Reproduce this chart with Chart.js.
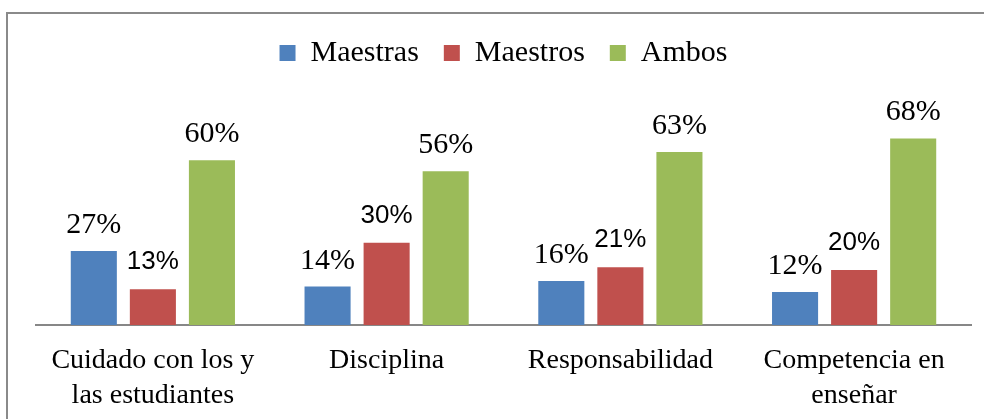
<!DOCTYPE html>
<html>
<head>
<meta charset="utf-8">
<script src="https://cdn.jsdelivr.net/npm/chart.js@4/dist/chart.umd.min.js"></script>
<style>
  html, body { margin: 0; padding: 0; background: #fff; width: 984px; height: 419px; overflow: hidden; }
  #frame { position: absolute; left: 6px; top: 12px; width: 1100px; height: 600px;
           border-top: 2px solid #8a8a8a; border-left: 2px solid #8a8a8a; }
  #c { position: absolute; left: 0; top: 0; }
</style>
</head>
<body>
<div id="frame"></div>
<canvas id="c" width="984" height="419"></canvas>
<script>
const categories = [
  ['Cuidado con los y', 'las estudiantes'],
  'Disciplina',
  'Responsabilidad',
  ['Competencia en', 'enseñar']
];
const seriesNames = ['Maestras', 'Maestros', 'Ambos'];
const maestras = [27, 14, 16, 12];
const maestros = [13, 30, 21, 20];
const ambos = [60, 56, 63, 68];

const colors = ['#4F81BD', '#C0504D', '#9BBB59'];
const labelFonts = [
  { font: '30px "Liberation Serif", "Times New Roman", serif', gap: 18 },
  { font: '26px "Liberation Sans", Arial, sans-serif', gap: 20 },
  { font: '30px "Liberation Serif", "Times New Roman", serif', gap: 18 }
];

const valueLabels = {
  id: 'valueLabels',
  afterDatasetsDraw(chart) {
    const ctx = chart.ctx;
    ctx.save();
    ctx.fillStyle = '#000';
    ctx.textAlign = 'center';
    ctx.textBaseline = 'alphabetic';
    chart.data.datasets.forEach((ds, i) => {
      const meta = chart.getDatasetMeta(i);
      ctx.font = labelFonts[i].font;
      meta.data.forEach((el, j) => {
        ctx.fillText(ds.data[j] + '%', el.x, el.y - labelFonts[i].gap);
      });
    });
    ctx.restore();
  }
};

new Chart(document.getElementById('c'), {
  type: 'bar',
  data: {
    labels: categories,
    datasets: [
      { label: seriesNames[0], data: maestras, backgroundColor: colors[0] },
      { label: seriesNames[1], data: maestros, backgroundColor: colors[1] },
      { label: seriesNames[2], data: ambos, backgroundColor: colors[2] }
    ]
  },
  options: {
    responsive: false,
    animation: false,
    events: [],
    layout: { padding: { top: 13, left: 36, right: 13, bottom: 0 } },
    datasets: { bar: { categoryPercentage: 0.758, barPercentage: 0.78 } },
    plugins: {
      legend: {
        position: 'top',
        labels: {
          boxWidth: 16,
          boxHeight: 16,
          padding: 25,
          color: '#000',
          font: { family: '"Liberation Serif", "Times New Roman", serif', size: 30 }
        }
      },
      tooltip: { enabled: false }
    },
    scales: {
      x: {
        grid: { display: false, drawTicks: false },
        border: { display: true, color: '#878787', width: 2 },
        ticks: {
          color: '#000',
          padding: 19,
          autoSkip: false,
          maxRotation: 0,
          minRotation: 0,
          font: { family: '"Liberation Serif", "Times New Roman", serif', size: 28, lineHeight: 1.22 }
        },
        afterFit(scale) { scale.height = 94; }
      },
      y: {
        display: false,
        min: 0,
        max: 90
      }
    }
  },
  plugins: [valueLabels]
});
</script>
</body>
</html>
